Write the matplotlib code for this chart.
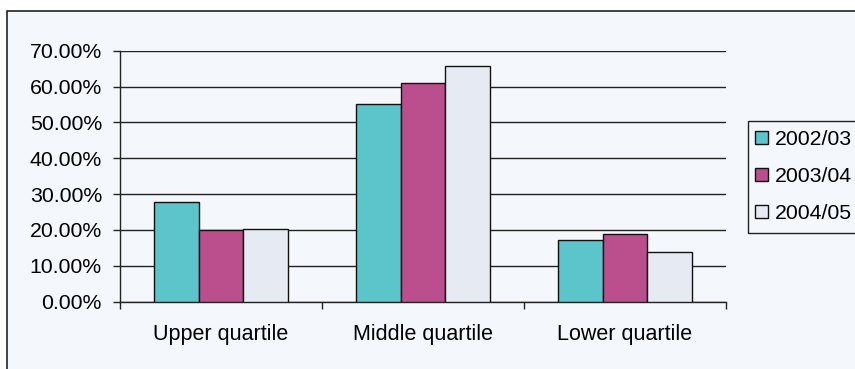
import matplotlib
matplotlib.use("Agg")
import matplotlib.pyplot as plt
from matplotlib.patches import Rectangle
from matplotlib.ticker import FuncFormatter, FixedLocator
import numpy as np

categories = ["Upper quartile", "Middle quartile", "Lower quartile"]
years = ["2002/03", "2003/04", "2004/05"]
share_0203 = [27.7, 55.2, 17.1]
share_0304 = [20.0, 61.0, 18.8]
share_0405 = [20.4, 65.6, 13.9]
colors = ["#5cc5cb", "#bb4e8c", "#e6eaf2"]

plt.rcParams["font.family"] = ["Liberation Sans", "DejaVu Sans"]
bg = "#f4f7fc"

fig = plt.figure(figsize=(8.55, 3.69), dpi=100, facecolor="white")
# chart area frame
fig.patches.append(Rectangle((7 / 855, -0.1), 1.0, 1.1 - 11 / 369,
                             transform=fig.transFigure, facecolor=bg,
                             edgecolor="#222222", linewidth=1.2, zorder=-5))
# legend box, runs past the right edge
fig.patches.append(Rectangle((748 / 855, 1 - 232.7 / 369), 0.2, 112 / 369,
                             transform=fig.transFigure, facecolor=bg,
                             edgecolor="#222222", linewidth=1.0, zorder=-4))

ax = fig.add_axes([120 / 855, 67.3 / 369, 606 / 855, 251 / 369])
ax.set_facecolor("none")
ax.set_zorder(2)

x = np.arange(len(categories))
width = 1 / 4.5
series = [share_0203, share_0304, share_0405]
for i, (vals, name) in enumerate(zip(series, years)):
    ax.bar(x + (i - 1) * width, vals, width, color=colors[i],
           edgecolor="#111111", linewidth=1.0, label=name, zorder=3)

ax.set_xlim(-0.5, 2.5)
ax.set_ylim(0, 70)
ax.set_yticks(np.arange(0, 71, 10))
ax.yaxis.set_major_formatter(FuncFormatter(lambda v, p: f"{v:.2f}%"))
ax.yaxis.grid(True, color="#222222", linewidth=1.0, zorder=1)
ax.set_axisbelow(True)

ax.set_xticks(x)
ax.set_xticklabels(categories)
ax.xaxis.set_minor_locator(FixedLocator([-0.5, 0.5, 1.5, 2.5]))
ax.tick_params(axis="x", which="major", length=0, pad=16, labelsize=15.5)
ax.tick_params(axis="x", which="minor", length=5, width=1, color="#222222")
ax.tick_params(axis="y", length=5, width=1, pad=8, labelsize=15.3,
               color="#222222")

for s in ["top", "right"]:
    ax.spines[s].set_visible(False)
for s in ["left", "bottom"]:
    ax.spines[s].set_color("#222222")
    ax.spines[s].set_linewidth(1.0)

leg = fig.legend(loc="center left", bbox_to_anchor=(748 / 855, 1 - 176.5 / 369),
                 fontsize=15.3, frameon=False, handlelength=0.6,
                 handleheight=0.6, handletextpad=0.35, labelspacing=0.85,
                 borderpad=0.33, borderaxespad=0)
leg.set_zorder(3)

fig.savefig("out.png", dpi=100, facecolor="white")
